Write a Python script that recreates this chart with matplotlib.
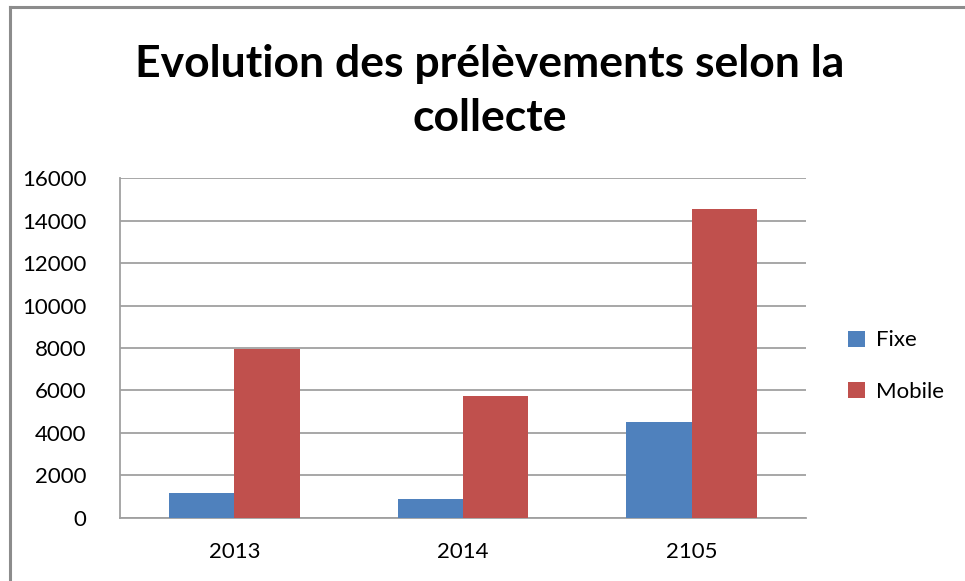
import matplotlib
matplotlib.use("Agg")
import matplotlib.pyplot as plt
import numpy as np
from matplotlib.lines import Line2D

plt.rcParams['font.family'] = ['Lato', 'DejaVu Sans']

# data
years = ["2013", "2014", "2105"]
fixe = [1170, 870, 4500]
mobile = [7970, 5720, 14570]
yticks = [0, 2000, 4000, 6000, 8000, 10000, 12000, 14000, 16000]

blue = "#4f81bd"
red = "#c0504d"
grid_col = "#a0a0a0"

fig = plt.figure(figsize=(9.65, 5.81), dpi=100)
W, H = 965, 581

# outer frame (top and left edges only are visible)
fig.add_artist(Line2D([10 / W, 1], [1 - 7 / H, 1 - 7 / H], color="#8c8c8c", lw=2.2,
                      transform=fig.transFigure))
fig.add_artist(Line2D([10 / W, 10 / W], [0, 1 - 7 / H], color="#8c8c8c", lw=2.2,
                      transform=fig.transFigure))

ax = fig.add_axes([120 / W, 1 - 517.5 / H, (806 - 120) / W, (517.5 - 178.3) / H])

x = np.arange(len(years))
w = 1 / 3.5
ax.bar(x - w / 2, fixe, w, color=blue, label="Fixe", zorder=3)
ax.bar(x + w / 2, mobile, w, color=red, label="Mobile", zorder=3)

ax.set_xlim(-0.5, len(years) - 0.5)
ax.set_ylim(0, 16000)
ax.set_yticks(yticks)
ax.set_yticklabels([str(v) for v in yticks])
ax.set_xticks(x)
ax.set_xticklabels(years)
ax.tick_params(length=0, labelsize=16, colors="#000000")
ax.tick_params(axis="y", pad=24)
ax.tick_params(axis="x", pad=18)
ax.yaxis.grid(True, color=grid_col, lw=1.3, zorder=0)
for s in ["top", "right"]:
    ax.spines[s].set_visible(False)
for s in ["left", "bottom"]:
    ax.spines[s].set_color(grid_col)
    ax.spines[s].set_linewidth(1.3)

fig.text(490 / W, 1 - 91 / H, "Evolution des prélèvements selon la\ncollecte",
         ha="center", va="center", fontsize=32, fontweight="bold", linespacing=1.4)

ax.legend(loc="center left", bbox_to_anchor=(828 / W, 1 - 366 / H),
          bbox_transform=fig.transFigure, frameon=False, fontsize=16,
          handlelength=0.75, handleheight=0.75, handletextpad=0.5, labelspacing=1.4)

fig.savefig("out.png", dpi=100)
